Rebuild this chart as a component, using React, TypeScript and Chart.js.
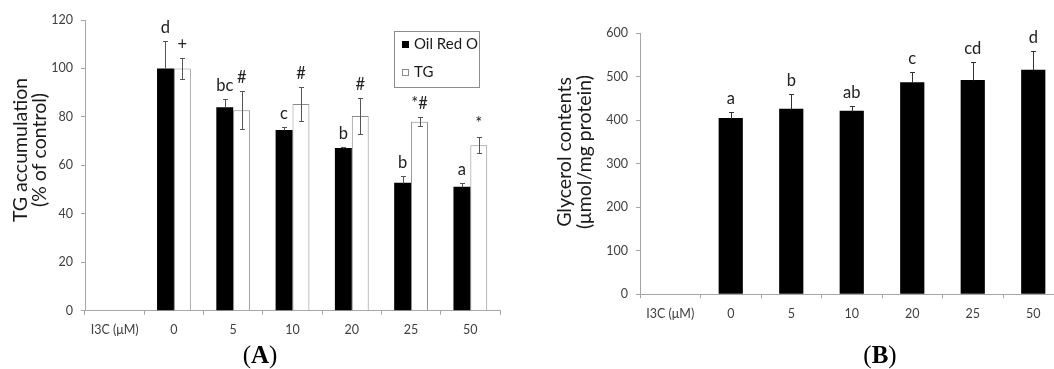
import React, { useEffect, useRef } from 'react';
import { Chart, registerables } from 'chart.js';

Chart.register(...registerables);

// ---------- data ----------
const categories = ['I3C (μM)', '0', '5', '10', '20', '25', '50'];

const oilRedO = [null, 100, 84, 74.6, 67.2, 52.8, 51.2];
const oilRedOErr = [null, 11.2, 3.3, 1.4, 0.4, 2.9, 1.4];
const oilRedOLetters = ['', 'd', 'bc', 'c', 'b', 'b', 'a'];

const tg = [null, 100, 82.7, 85.3, 80.4, 78.0, 68.3];
const tgErr = [null, 4.3, 7.8, 6.9, 7.4, 1.8, 3.3];
const tgMarks = ['', '+', '#', '#', '#', '*#', '*'];

const glycerol = [null, 405, 426, 421.5, 486.7, 492, 515.6];
const glycerolErr = [null, 14.6, 33, 11.5, 23, 42, 43.4];
const glycerolLetters = ['', 'a', 'b', 'ab', 'c', 'cd', 'd'];

const titleA = ['TG accumulation', '(% of control)'];
const titleB = ['Glycerol contents', '(μmol/mg protein)'];

const FONT = 'Lato, "Open Sans", sans-serif';
const AXIS_GRAY = '#a6a6a6';
const TICK_TEXT = '#404040';

// ---------- plugins ----------
const errorBarPlugin = {
  id: 'errorBars',
  afterDatasetsDraw(chart: any) {
    const ctx = chart.ctx;
    const y = chart.scales.y;
    chart.data.datasets.forEach((ds: any, i: number) => {
      const meta = chart.getDatasetMeta(i);
      ctx.save();
      ctx.strokeStyle = ds.errColor || '#555';
      ctx.lineWidth = 1;
      meta.data.forEach((bar: any, j: number) => {
        const v = ds.data[j];
        const e = ds.errors ? ds.errors[j] : null;
        if (v == null || e == null) return;
        const top = y.getPixelForValue(v + e);
        const bot = ds.errUpOnly ? y.getPixelForValue(v) : y.getPixelForValue(v - e);
        const x = Math.round(bar.x) + 0.5;
        const t = Math.round(top) + 0.5;
        const b = Math.round(bot) + 0.5;
        ctx.beginPath();
        ctx.moveTo(x, t);
        ctx.lineTo(x, b);
        ctx.moveTo(x - 2.5, t);
        ctx.lineTo(x + 2.5, t);
        if (!ds.errUpOnly) {
          ctx.moveTo(x - 2.5, b);
          ctx.lineTo(x + 2.5, b);
        }
        ctx.stroke();
        const lab = ds.letters ? ds.letters[j] : '';
        if (lab) {
          ctx.fillStyle = '#222';
          ctx.font = `16.5px ${FONT}`;
          ctx.textAlign = 'center';
          ctx.textBaseline = 'alphabetic';
          ctx.fillText(lab, bar.x, top - 8);
        }
      });
      ctx.restore();
    });
  },
};

const axisTitlePlugin = {
  id: 'axisTitle',
  afterDraw(chart: any, _args: any, opts: any) {
    if (!opts || !opts.lines) return;
    const ctx = chart.ctx;
    ctx.save();
    ctx.fillStyle = '#1a1a1a';
    ctx.font = `${opts.size}px ${FONT}`;
    ctx.textAlign = 'center';
    ctx.textBaseline = 'middle';
    opts.lines.forEach((line: string, k: number) => {
      ctx.save();
      ctx.translate(opts.xs[k], opts.cy);
      ctx.rotate(-Math.PI / 2);
      ctx.fillText(line, 0, 0);
      ctx.restore();
    });
    ctx.restore();
  },
};

const boxLegendPlugin = {
  id: 'boxLegend',
  afterDraw(chart: any, _args: any, opts: any) {
    if (!opts || !opts.show) return;
    const ctx = chart.ctx;
    const { x, y, w, h } = opts;
    ctx.save();
    ctx.strokeStyle = '#8c8c8c';
    ctx.lineWidth = 1;
    ctx.strokeRect(Math.round(x) + 0.5, Math.round(y) + 0.5, w, h);
    ctx.font = `15px ${FONT}`;
    ctx.textBaseline = 'middle';
    ctx.textAlign = 'left';
    chart.data.datasets.forEach((ds: any, i: number) => {
      const cy = y + 13.5 + i * 28;
      ctx.fillStyle = ds.backgroundColor;
      ctx.fillRect(x + 8, cy - 3.5, 7, 7);
      ctx.strokeStyle = ds.borderColor;
      ctx.strokeRect(x + 8.5, cy - 3, 6, 6);
      ctx.fillStyle = '#1a1a1a';
      ctx.fillText(ds.label, x + 20, cy);
    });
    ctx.restore();
  },
};

function axisOpts(kind: 'x' | 'y', extra: any) {
  return {
    grid: { drawOnChartArea: false, drawTicks: true, tickLength: 4, color: AXIS_GRAY },
    border: { display: true, color: AXIS_GRAY, width: 1 },
    ticks: { color: TICK_TEXT, font: { family: FONT, size: 12.5 }, padding: kind === 'x' ? 8 : 8 },
    ...extra,
  };
}

// ---------- charts ----------
function ChartA() {
  const ref = useRef<HTMLCanvasElement>(null);
  useEffect(() => {
    const chart = new Chart(ref.current as HTMLCanvasElement, {
      type: 'bar',
      data: {
        labels: categories,
        datasets: [
          {
            label: 'Oil Red O',
            data: oilRedO,
            backgroundColor: '#000000',
            borderColor: '#000000',
            borderWidth: 0,
            barPercentage: 1,
            categoryPercentage: 0.57,
            errors: oilRedOErr,
            errUpOnly: true,
            errColor: '#555555',
            letters: oilRedOLetters,
          } as any,
          {
            label: 'TG',
            data: tg,
            backgroundColor: '#ffffff',
            borderColor: '#8c8c8c',
            borderWidth: 1,
            barPercentage: 1,
            categoryPercentage: 0.57,
            errors: tgErr,
            errUpOnly: false,
            errColor: '#555555',
            letters: tgMarks,
          } as any,
        ],
      },
      options: {
        animation: false,
        responsive: false,
        devicePixelRatio: 1,
        layout: { padding: { top: 20, right: 25, bottom: 0, left: 0 } },
        plugins: {
          legend: { display: false },
          tooltip: { enabled: false },
          axisTitle: { lines: titleA, xs: [21, 40], cy: 150, size: 19.5 },
          boxLegend: { show: true, x: 394, y: 31, w: 85, h: 56 },
        } as any,
        scales: {
          x: axisOpts('x', {
            afterFit: (s: any) => { s.height = 369 - 310.7; },
          }),
          y: axisOpts('y', {
            min: 0,
            max: 120,
            ticks: { color: TICK_TEXT, font: { family: FONT, size: 12.5 }, padding: 8, stepSize: 20 },
            afterFit: (s: any) => { s.width = 85; },
          }),
        },
      },
      plugins: [errorBarPlugin, axisTitlePlugin, boxLegendPlugin],
    });
    return () => chart.destroy();
  }, []);
  return <canvas ref={ref} width={525} height={369} style={{ position: 'absolute', left: 0, top: 0 }} />;
}

function ChartB() {
  const ref = useRef<HTMLCanvasElement>(null);
  useEffect(() => {
    const chart = new Chart(ref.current as HTMLCanvasElement, {
      type: 'bar',
      data: {
        labels: categories,
        datasets: [
          {
            label: 'Glycerol contents',
            data: glycerol,
            backgroundColor: '#000000',
            borderColor: '#000000',
            borderWidth: 0,
            barPercentage: 1,
            categoryPercentage: 0.4,
            errors: glycerolErr,
            errUpOnly: true,
            errColor: '#333333',
            letters: glycerolLetters,
          } as any,
        ],
      },
      options: {
        animation: false,
        responsive: false,
        devicePixelRatio: 1,
        layout: { padding: { top: 33, right: 21.5, bottom: 0, left: 0 } },
        plugins: {
          legend: { display: false },
          tooltip: { enabled: false },
          axisTitle: { lines: titleB, xs: [40, 60], cy: 152, size: 19.5 },
        } as any,
        scales: {
          x: axisOpts('x', {
            afterFit: (s: any) => { s.height = 369 - 294.3; },
          }),
          y: axisOpts('y', {
            min: 0,
            max: 600,
            ticks: { color: TICK_TEXT, font: { family: FONT, size: 12.5 }, padding: 8, stepSize: 100 },
            afterFit: (s: any) => { s.width = 115; },
          }),
        },
      },
      plugins: [errorBarPlugin, axisTitlePlugin],
    });
    return () => chart.destroy();
  }, []);
  return <canvas ref={ref} width={560} height={369} style={{ position: 'absolute', left: 525, top: 0 }} />;
}

const panelStyle: React.CSSProperties = {
  position: 'absolute',
  top: 340,
  width: 80,
  textAlign: 'center',
  fontFamily: '"Liberation Serif", "Times New Roman", serif',
  fontSize: 25,
  lineHeight: '30px',
  color: '#000',
};

export default function App() {
  return (
    <div
      style={{
        position: 'fixed',
        left: 0,
        top: 0,
        width: 1054,
        height: 369,
        overflow: 'hidden',
        background: '#fff',
      }}
    >
      <ChartA />
      <ChartB />
      <div style={{ ...panelStyle, left: 220 }}>
        (<b>A</b>)
      </div>
      <div style={{ ...panelStyle, left: 840 }}>
        (<b>B</b>)
      </div>
    </div>
  );
}
